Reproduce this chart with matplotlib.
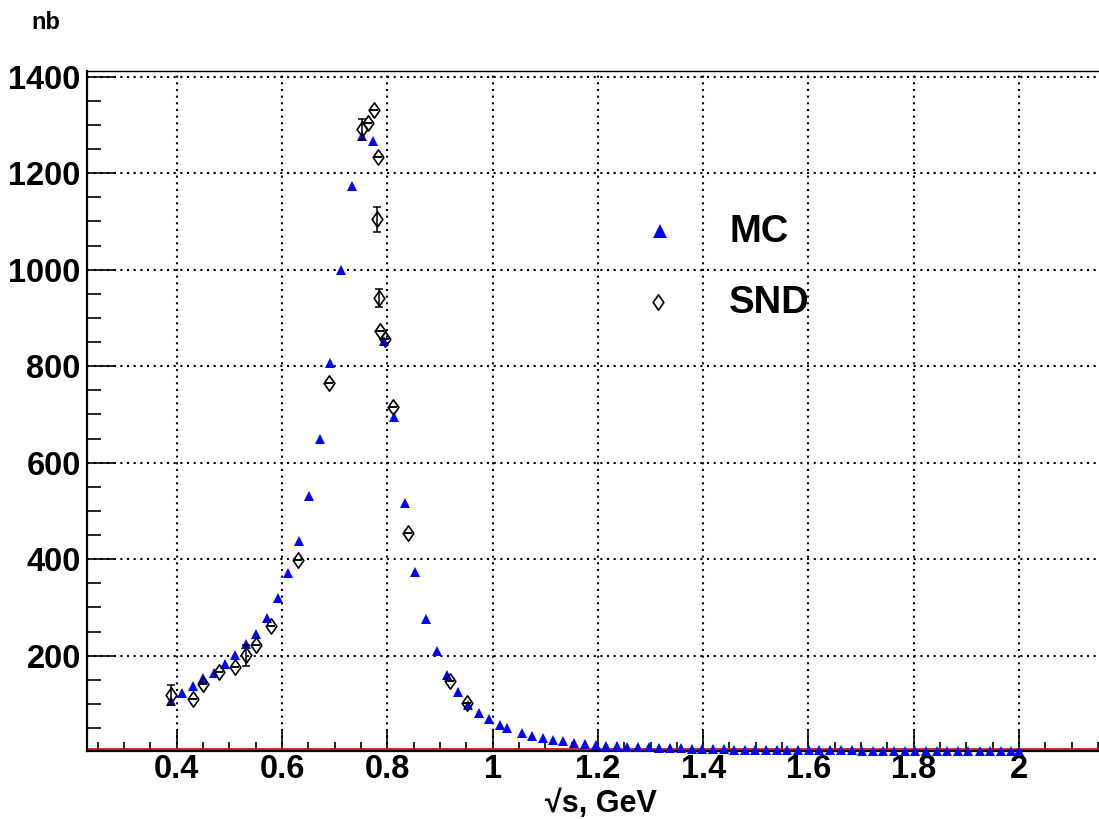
import matplotlib
matplotlib.use("Agg")
import matplotlib.pyplot as plt
from matplotlib.path import Path
from matplotlib.ticker import MultipleLocator, FixedLocator, FixedFormatter

plt.rcParams['font.family'] = ['Liberation Sans', 'DejaVu Sans']
plt.rcParams['font.weight'] = 'bold'

# ---- data ----
mc_energy = [0.390, 0.410, 0.430, 0.450, 0.471, 0.491, 0.511, 0.531, 0.551, 0.571,
             0.592, 0.612, 0.632, 0.652, 0.672, 0.692, 0.712, 0.732, 0.752, 0.773,
             0.793, 0.813, 0.833, 0.853, 0.873, 0.894, 0.914, 0.934, 0.954, 0.975,
             0.994, 1.014, 1.028, 1.055, 1.074, 1.095, 1.115, 1.134, 1.155, 1.176,
             1.196, 1.216, 1.236, 1.256, 1.277, 1.297, 1.317, 1.337, 1.357, 1.378,
             1.398, 1.418, 1.439, 1.459, 1.479, 1.499, 1.520, 1.540, 1.560, 1.580,
             1.601, 1.621, 1.641, 1.661, 1.682, 1.702, 1.722, 1.742, 1.763, 1.783,
             1.803, 1.823, 1.844, 1.864, 1.884, 1.904, 1.925, 1.945, 1.965, 1.985,
             2.000]
mc_xsec = [106, 122, 138, 153, 165, 182, 201, 224, 246, 279,
           319, 371, 438, 531, 650, 806, 999, 1173, 1277, 1267,
           853, 694, 516, 374, 277, 210, 160, 125, 98, 81,
           68, 56, 50, 39, 34, 30, 25, 23, 19, 17,
           15, 13.5, 12.5, 11.5, 11, 10.5, 9.5, 8.5, 8, 7.5,
           7, 6.5, 6, 5.5, 5.2, 5, 4.7, 4.5, 4.3, 4.1,
           4, 3.9, 3.8, 3.7, 3.6, 3.5, 3.4, 3.3, 3.2, 3.1,
           3.0, 3.0, 2.9, 2.9, 2.8, 2.8, 2.7, 2.7, 2.6, 2.6,
           2.5]

snd_energy = [0.390, 0.430, 0.450, 0.480, 0.510, 0.531, 0.550, 0.580, 0.631, 0.690,
              0.752, 0.764, 0.774, 0.780, 0.782, 0.785, 0.787, 0.795, 0.811, 0.839,
              0.920, 0.952]
snd_xsec = [118, 110, 141, 166, 176, 201, 222, 262, 398, 765,
            1291, 1303, 1330, 1104, 1233, 941, 873, 856, 716, 454,
            148, 103]
snd_err = [21, 0, 0, 0, 0, 22, 0, 0, 0, 0,
           22, 0, 0, 26, 0, 19, 0, 0, 0, 0,
           0, 0]

x_major = [0.4, 0.6, 0.8, 1.0, 1.2, 1.4, 1.6, 1.8, 2.0]
x_labels = ["0.4", "0.6", "0.8", "1", "1.2", "1.4", "1.6", "1.8", "2"]
y_major = [200, 400, 600, 800, 1000, 1200, 1400]
y_labels = ["200", "400", "600", "800", "1000", "1200", "1400"]

# ---- figure ----
fig = plt.figure(figsize=(10.99, 8.19), dpi=100)
ax = fig.add_axes([0.0792, 0.0830, 0.9208, 0.8307])
ax.set_xlim(0.2296, 2.152)
ax.set_ylim(2.5, 1412.4)

ax.xaxis.set_major_locator(FixedLocator(x_major))
ax.xaxis.set_major_formatter(FixedFormatter(x_labels))
ax.xaxis.set_minor_locator(MultipleLocator(0.05))
ax.yaxis.set_major_locator(FixedLocator(y_major))
ax.yaxis.set_major_formatter(FixedFormatter(y_labels))
ax.yaxis.set_minor_locator(MultipleLocator(50))

ax.tick_params(axis='x', which='major', direction='in', length=15.5, width=1.2,
               labelsize=23.5, pad=2.0, top=False)
ax.tick_params(axis='x', which='minor', direction='in', length=6.5, width=1.2, top=False)
ax.tick_params(axis='y', which='major', direction='in', length=21, width=1.2,
               labelsize=23.5, pad=4.5, right=False)
ax.tick_params(axis='y', which='minor', direction='in', length=10.3, width=1.2, right=False)
for lab in ax.get_xticklabels() + ax.get_yticklabels():
    lab.set_fontweight('bold')

ax.grid(True, which='major', color='black', linestyle=(0, (1, 2.2)), linewidth=1.5, zorder=0)
ax.set_axisbelow(True)

ax.spines['left'].set_linewidth(1.6)
ax.spines['bottom'].set_linewidth(1.6)
ax.spines['top'].set_linewidth(1.0)
ax.spines['right'].set_visible(False)

ax.axhline(6.8, color='#dd1111', linewidth=1.3, zorder=1)

# MC triangles
ax.plot(mc_energy, mc_xsec, linestyle='none', marker='^', markersize=7.8,
        color='#0000ff', markeredgewidth=0, zorder=3, clip_on=False)

# SND diamonds
diamond = Path([(0, 1), (0.7, 0), (0, -1), (-0.7, 0), (0, 1)],
               [Path.MOVETO, Path.LINETO, Path.LINETO, Path.LINETO, Path.CLOSEPOLY])
ax.errorbar(snd_energy, snd_xsec, yerr=snd_err, fmt='none', ecolor='black',
            elinewidth=1.1, capsize=3, capthick=1.1, zorder=4)
ax.plot(snd_energy, snd_xsec, linestyle='none', marker=diamond, markersize=11,
        markerfacecolor='none', markeredgecolor='black', markeredgewidth=1.2, zorder=5)

# legend (manual)
fig.lines.append(plt.Line2D([0.601], [0.7183], transform=fig.transFigure,
                            marker='^', markersize=9.5, color='#0000ff',
                            markeredgewidth=0, linestyle='none'))
fig.lines.append(plt.Line2D([0.5987], [0.6316], transform=fig.transFigure,
                            marker=diamond, markersize=11, markerfacecolor='none',
                            markeredgecolor='black', markeredgewidth=1.2, linestyle='none'))
fig.text(0.664, 0.7049, "MC", fontsize=27.5, fontweight='bold', ha='left', va='baseline')
fig.text(0.6635, 0.6175, "SND", fontsize=27.5, fontweight='bold', ha='left', va='baseline')

# axis titles
fig.text(0.0288, 0.9642, "nb", fontsize=17, fontweight='bold', ha='left', va='baseline')
fig.text(0.5465, 0.0085, "\u221as, GeV", fontsize=22, fontweight='bold',
         ha='center', va='baseline')

fig.savefig("out.png", dpi=100)
